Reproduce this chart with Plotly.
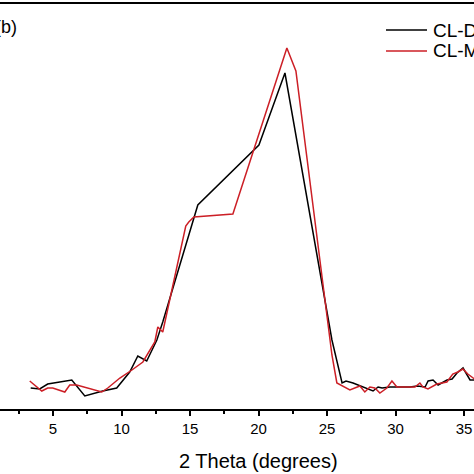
import plotly.graph_objects as go

# 2 Theta (degrees) and intensity (arbitrary units)
cl_d_theta = [3.37, 4.03, 4.61, 6.37, 7.32, 8.63, 9.65, 10.60, 11.19, 11.84, 12.58, 13.01,
              15.57, 20.03, 21.93, 25.36, 26.10, 26.39, 26.90, 27.78, 28.36, 28.73, 29.02,
              29.60, 31.06, 31.58, 32.16, 32.38, 32.74, 33.11, 33.76, 34.13, 34.49, 34.93,
              35.44, 35.88]
cl_d_int = [21, 20, 25, 29, 13, 18, 21, 37, 53, 48, 69, 87,
            204, 264, 336, 69, 26, 28, 26, 21, 18, 22, 21,
            22, 22, 23, 22, 28, 29, 24, 29, 30, 36, 41,
            29, 29]

cl_m_theta = [3.30, 4.18, 4.61, 4.98, 5.86, 6.22, 6.73, 8.56, 9.00, 9.88, 10.76, 11.56,
              12.43, 12.65, 13.01, 14.69, 14.91, 15.28, 18.13, 22.07, 22.73, 25.36, 25.72,
              26.67, 27.40, 27.76, 28.13, 28.49, 28.86, 29.37, 29.74, 30.10, 31.05, 31.42,
              31.78, 32.00, 32.37, 33.02, 33.75, 34.18, 34.55, 34.92, 35.28, 35.87]
cl_m_int = [28, 18, 21, 21, 17, 24, 24, 17, 21, 31, 39, 47,
            67, 82, 77, 183, 187, 192, 195, 361, 338, 54, 26,
            19, 23, 17, 22, 21, 16, 21, 28, 22, 22, 22,
            26, 22, 20, 25, 27, 35, 37, 40, 35, 29]

series_names = ["CL-D", "CL-M"]
colors = ["#000000", "#cc1f26"]

W = H = 474
top_px, bottom_px = 4, 409

fig = go.Figure()
fig.add_trace(go.Scatter(x=cl_d_theta, y=cl_d_int, mode="lines", name=series_names[0],
                         line=dict(color=colors[0], width=1.5), showlegend=False))
fig.add_trace(go.Scatter(x=cl_m_theta, y=cl_m_int, mode="lines", name=series_names[1],
                         line=dict(color=colors[1], width=1.5), showlegend=False))

font = "Arial, Liberation Sans, sans-serif"

# legend drawn manually (it is cut by the right edge in the reference)
for i, (name, col) in enumerate(zip(series_names, colors)):
    py = 30 + i * 21
    yp = (bottom_px - py) / (bottom_px - top_px)
    fig.add_shape(type="line", xref="paper", yref="paper",
                  x0=386 / W, x1=427 / W, y0=yp, y1=yp,
                  line=dict(color=col, width=1.5))
    fig.add_annotation(xref="paper", yref="paper", x=431 / W, y=yp, text=name,
                       showarrow=False, xanchor="left", yanchor="middle",
                       font=dict(family=font, size=19, color="#000000"))

fig.add_annotation(xref="paper", yref="paper", x=-7 / W,
                   y=(bottom_px - 27) / (bottom_px - top_px), text="(b)",
                   showarrow=False, xanchor="left", yanchor="middle",
                   font=dict(family=font, size=18, color="#000000"))

fig.add_annotation(xref="x", yref="paper", x=20, y=0, yshift=-(461 - bottom_px),
                   text="2 Theta (degrees)", showarrow=False,
                   xanchor="center", yanchor="middle",
                   font=dict(family=font, size=20, color="#000000"))

fig.update_layout(
    width=W, height=H,
    margin=dict(l=0, r=0, t=top_px, b=H - bottom_px, pad=0),
    paper_bgcolor="white", plot_bgcolor="white",
    showlegend=False,
    xaxis=dict(range=[1.13, 35.73], tickmode="linear", tick0=0, dtick=5,
               ticks="outside", ticklen=5, tickwidth=1.5, tickcolor="#000",
               showline=True, linecolor="#000", linewidth=1.5, mirror=True,
               showgrid=False, zeroline=False,
               tickfont=dict(family=font, size=15, color="#000"),
               minor=dict(dtick=2.5, ticks="outside", ticklen=3, tickwidth=1.5,
                          tickcolor="#000", showgrid=False)),
    yaxis=dict(range=[0, 405], visible=False, showgrid=False, zeroline=False),
)

fig.write_html("out.html")
